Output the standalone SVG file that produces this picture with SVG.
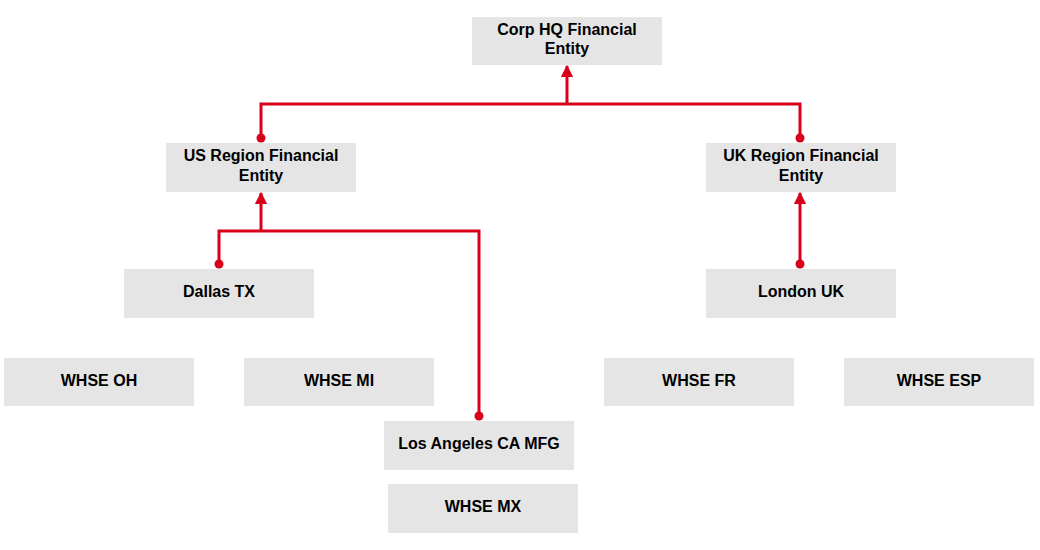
<svg xmlns="http://www.w3.org/2000/svg" width="1040" height="550" viewBox="0 0 1040 550">
<defs>
<style>
.box{fill:#e5e5e5;}
.t{font-family:"Liberation Sans",Arial,sans-serif;font-weight:bold;font-size:16px;fill:#000;text-anchor:middle;}
.c{fill:none;stroke:#d9001b;stroke-width:3;}
.d{fill:#d9001b;}
</style>
<marker id="arr" viewBox="0 0 10 10" refX="9" refY="5" markerWidth="4.2" markerHeight="4.2" orient="auto" markerUnits="strokeWidth">
<path d="M0,0 L10,5 L0,10 z" fill="#d9001b"/>
</marker>
</defs>
<rect width="1040" height="550" fill="#fff"/>
<g id="connectors">
<path class="c" d="M261,138 V104 H800 V138"/>
<path class="c" d="M567,104 V66" marker-end="url(#arr)"/>
<path class="c" d="M219,264 V231 H479 V416"/>
<path class="c" d="M261,231 V193" marker-end="url(#arr)"/>
<path class="c" d="M800,264 V193" marker-end="url(#arr)"/>
<circle class="d" cx="261" cy="138" r="4.5"/>
<circle class="d" cx="800" cy="138" r="4.5"/>
<circle class="d" cx="219" cy="264" r="4.5"/>
<circle class="d" cx="479" cy="416" r="4.5"/>
<circle class="d" cx="800" cy="264" r="4.5"/>
</g>
<g id="corp-hq"><rect class="box" x="472" y="17" width="190" height="48"/><text class="t" x="567" y="35">Corp HQ Financial</text><text class="t" x="567" y="54">Entity</text></g>
<g id="us-region"><rect class="box" x="166" y="143" width="190" height="49"/><text class="t" x="261" y="161">US Region Financial</text><text class="t" x="261" y="181">Entity</text></g>
<g id="uk-region"><rect class="box" x="706" y="143" width="190" height="49"/><text class="t" x="801" y="161">UK Region Financial</text><text class="t" x="801" y="181">Entity</text></g>
<g id="dallas"><rect class="box" x="124" y="269" width="190" height="49"/><text class="t" x="219" y="297">Dallas TX</text></g>
<g id="london"><rect class="box" x="706" y="269" width="190" height="49"/><text class="t" x="801" y="297">London UK</text></g>
<g id="whse-oh"><rect class="box" x="4" y="358" width="190" height="48"/><text class="t" x="99" y="386">WHSE OH</text></g>
<g id="whse-mi"><rect class="box" x="244" y="358" width="190" height="48"/><text class="t" x="339" y="386">WHSE MI</text></g>
<g id="whse-fr"><rect class="box" x="604" y="358" width="190" height="48"/><text class="t" x="699" y="386">WHSE FR</text></g>
<g id="whse-esp"><rect class="box" x="844" y="358" width="190" height="48"/><text class="t" x="939" y="386">WHSE ESP</text></g>
<g id="los-angeles"><rect class="box" x="384" y="421" width="190" height="49"/><text class="t" x="479" y="449">Los Angeles CA MFG</text></g>
<g id="whse-mx"><rect class="box" x="388" y="484" width="190" height="49"/><text class="t" x="483" y="512">WHSE MX</text></g>
</svg>
